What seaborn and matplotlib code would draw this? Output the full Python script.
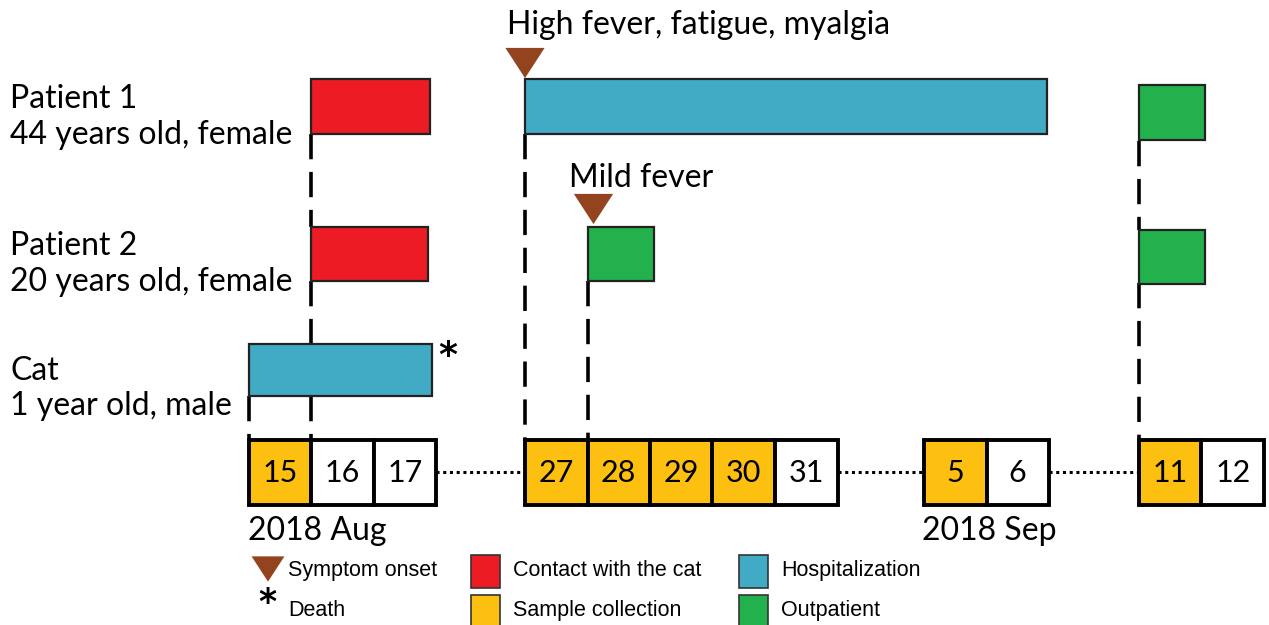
import matplotlib
matplotlib.use("Agg")
import matplotlib.pyplot as plt
from matplotlib.patches import Rectangle
from matplotlib.path import Path
import seaborn as sns
import pandas as pd

# ---------------- data ----------------
days = [15, 16, 17, 27, 28, 29, 30, 31, 5, 6, 11, 12]
day_groups = [[15, 16, 17], [27, 28, 29, 30, 31], [5, 6], [11, 12]]
sampled_days = [15, 27, 28, 29, 30, 5, 11]
month_labels = ["2018 Aug", "2018 Sep"]

subjects = ["Patient 1", "Patient 2", "Cat"]
subject_desc = ["44 years old, female", "20 years old, female", "1 year old, male"]

bar_subject = ["Patient 1", "Patient 1", "Patient 1", "Patient 2", "Patient 2", "Patient 2", "Cat"]
bar_kind = ["Contact with the cat", "Hospitalization", "Outpatient",
            "Contact with the cat", "Outpatient", "Outpatient", "Hospitalization"]
bar_start_day = [16, 27, 11, 16, 28, 11, 15]
bar_end_day = [17, 6, 11, 17, 28, 11, 17]
bar_end_frac = [0.9, 0.97, 1.06, 0.87, 1.07, 1.06, 0.93]

onset_subject = ["Patient 1", "Patient 2"]
onset_day = [27, 28]
onset_text = ["High fever, fatigue, myalgia", "Mild fever"]

death_subject = ["Cat"]

kind_colors = {
    "Symptom onset": "#93441f",
    "Contact with the cat": "#ed1c24",
    "Hospitalization": "#41abc6",
    "Sample collection": "#fdbf10",
    "Outpatient": "#22b14c",
}

# ---------------- layout ----------------
sns.set_theme(style="white")
main_font = ["Lato", "DejaVu Sans"]
legend_font = ["Liberation Sans", "DejaVu Sans"]
plt.rcParams["font.family"] = main_font
plt.rcParams["text.color"] = "black"

W_PX, H_PX = 1269, 625
CELL = 62.5
X0 = 249
group_start_px = [249, 525, 924, 1139]
slot_px = {}
for g, sx in zip(day_groups, group_start_px):
    for i, d in enumerate(g):
        slot_px[d] = sx + i * CELL

def px2x(px):
    return (px - X0) / CELL

slot = {d: px2x(p) for d, p in slot_px.items()}

row_top = {"Patient 1": 79, "Patient 2": 227, "Cat": 344}
row_h = {"Patient 1": 55, "Patient 2": 54, "Cat": 52}
label_base = {"Patient 1": (108, 144), "Patient 2": (255, 291), "Cat": (380, 415)}
bar_dy = [0, 0, 6, 0, 0, 3, 0]
onset_dx = [0, 6]
onset_tri_y = [63, 209]
onset_text_y = [25, 178]
cell_top, cell_bot = 440, 505
MAIN_FS = 23

fig = plt.figure(figsize=(W_PX / 100, H_PX / 100), dpi=100)
ax = fig.add_axes([0, 0, 1, 1])

# bars
bars = pd.DataFrame({
    "subject": bar_subject, "kind": bar_kind,
    "start": [slot[d] for d in bar_start_day],
    "end": [slot[d] + f for d, f in zip(bar_end_day, bar_end_frac)],
    "dy": bar_dy,
})
for _, b in bars.iterrows():
    top = row_top[b.subject] + b.dy
    ax.add_patch(Rectangle((b.start, top), b.end - b.start, row_h[b.subject],
                           facecolor=kind_colors[b.kind], edgecolor="#222222",
                           linewidth=1.6, zorder=3))

# dashed connectors
dash_kw = dict(color="black", lw=2.6, linestyle=(0, (7, 3.5)), zorder=2)
def vline(day, y0, y1):
    ax.plot([slot[day], slot[day]], [y0, y1], **dash_kw)

vline(16, 134, 227); vline(16, 281, 344); vline(16, 396, cell_top)
vline(15, 396, cell_top)
vline(27, 134, cell_top)
vline(28, 281, cell_top)
vline(11, 141, 230); vline(11, 283, cell_top)

# day cells
for d in days:
    fc = kind_colors["Sample collection"] if d in sampled_days else "white"
    ax.add_patch(Rectangle((slot[d], cell_top), 1, cell_bot - cell_top,
                           facecolor=fc, edgecolor="black", linewidth=2.8, zorder=4))
    ax.text(slot[d] + 0.5, (cell_top + cell_bot) / 2 + 1, str(d), ha="center", va="center",
            fontsize=22, zorder=5)

# dotted gaps
for g1, g2 in zip(day_groups[:-1], day_groups[1:]):
    ax.plot([slot[g1[-1]] + 1, slot[g2[0]]], [472, 472], color="black", lw=2.2,
            linestyle=(0, (1, 1.2)), zorder=2)

# month labels
ax.text(slot[15] - 0.02, 540, month_labels[0], ha="left", va="baseline", fontsize=MAIN_FS)
ax.text(slot[5] + 1.05, 540, month_labels[1], ha="center", va="baseline", fontsize=MAIN_FS)

# subject labels
for s, desc in zip(subjects, subject_desc):
    b1, b2 = label_base[s]
    ax.text(px2x(10), b1, s, ha="left", va="baseline", fontsize=MAIN_FS)
    ax.text(px2x(10), b2, desc, ha="left", va="baseline", fontsize=MAIN_FS)

# symptom onset triangles (flattened downward triangle)
tri_marker = Path([(-0.65, 0.5), (0.65, 0.5), (0, -0.5), (-0.65, 0.5)],
                  [Path.MOVETO, Path.LINETO, Path.LINETO, Path.CLOSEPOLY])
tri = pd.DataFrame({"x": [slot[d] + dx / CELL for d, dx in zip(onset_day, onset_dx)],
                    "y": onset_tri_y})
sns.scatterplot(data=tri, x="x", y="y", marker=tri_marker, s=800,
                color=kind_colors["Symptom onset"], edgecolor="none", ax=ax, zorder=6, legend=False)
for d, t, ty in zip(onset_day, onset_text, onset_text_y):
    ax.text(slot[d] - 0.29, ty, t, ha="left", va="center", fontsize=MAIN_FS)

# death asterisk
for s in death_subject:
    ax.text(px2x(448), row_top[s] + 12, "*", ha="center", va="center", fontsize=26,
            fontweight="bold", family=["DejaVu Sans"])

# legend
leg_fs = 15.5
sns.scatterplot(x=[px2x(268)], y=[569], marker=tri_marker, s=560,
                color=kind_colors["Symptom onset"], edgecolor="none", ax=ax, zorder=6, legend=False)
ax.text(px2x(288), 576, "Symptom onset", ha="left", va="baseline", fontsize=leg_fs, family=legend_font)
ax.text(px2x(267), 603, "*", ha="center", va="center", fontsize=25, fontweight="bold",
        family=["DejaVu Sans"])
ax.text(px2x(288), 616, "Death", ha="left", va="baseline", fontsize=leg_fs, family=legend_font)

legend_items = [("Contact with the cat", 471, 555, 576), ("Hospitalization", 739, 555, 576),
                ("Sample collection", 471, 595, 616), ("Outpatient", 739, 595, 616)]
for name, lx, ly, tb in legend_items:
    ax.add_patch(Rectangle((px2x(lx), ly), 29 / CELL, 33, facecolor=kind_colors[name],
                           edgecolor="#333333", linewidth=1.2, zorder=3))
    ax.text(px2x(lx + 42), tb, name, ha="left", va="baseline", fontsize=leg_fs, family=legend_font)

ax.set_xlim(px2x(0), px2x(W_PX))
ax.set_ylim(H_PX, 0)
ax.set_xlabel(""); ax.set_ylabel("")
ax.axis("off")
fig.savefig("out.png", dpi=100)
